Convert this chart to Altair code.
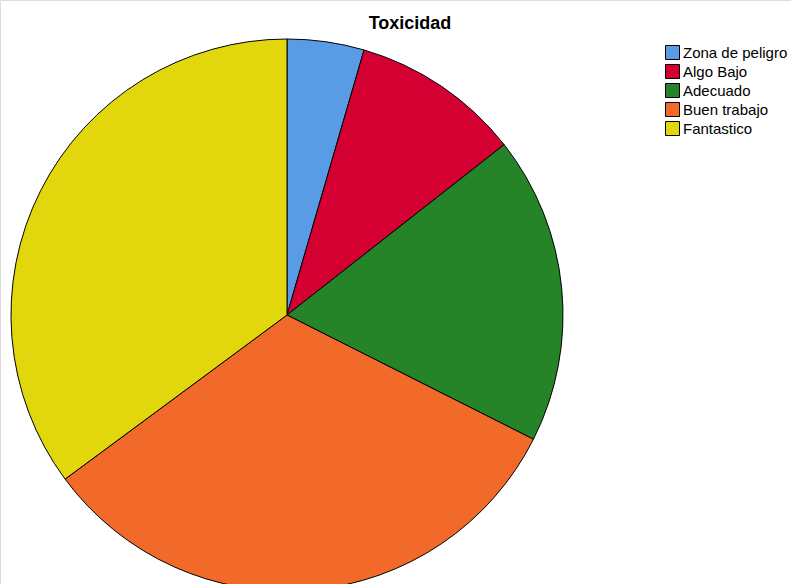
import altair as alt
import pandas as pd

categories = ["Zona de peligro", "Algo Bajo", "Adecuado", "Buen trabajo", "Fantastico"]
counts = [5, 11, 20, 36, 39]
colors = ["#5A9BE6", "#D50032", "#258427", "#F26A2A", "#E2D70C"]
title_text = "Toxicidad"

df = pd.DataFrame({"cat": categories, "n": counts, "idx": list(range(len(categories)))})

pie = alt.Chart(df).mark_arc(outerRadius=276, stroke="black", strokeWidth=1).encode(
    theta=alt.Theta("n:Q", stack=True),
    order=alt.Order("idx:Q"),
    color=alt.Color(
        "cat:N",
        scale=alt.Scale(domain=categories, range=colors),
        legend=alt.Legend(
            title=None,
            orient="none",
            legendX=665,
            legendY=45,
            symbolType="square",
            symbolSize=196,
            symbolStrokeColor="black",
            symbolStrokeWidth=1,
            symbolOpacity=1,
            labelFont="Liberation Sans",
            labelFontSize=15,
            labelColor="black",
            labelOffset=3,
            rowPadding=0,
        ),
    ),
    x=alt.value(287),
    y=alt.value(315),
)

title = alt.Chart(pd.DataFrame({"t": [title_text]})).mark_text(
    font="Liberation Sans", fontSize=18, fontWeight="bold", color="black"
).encode(text="t:N", x=alt.value(410), y=alt.value(24))

chart = alt.layer(pie, title).properties(
    width=791, height=584, padding=0, autosize=alt.AutoSizeParams(type="none")
).configure_view(stroke=None).configure(background="white")

chart.save("out.html", embed_options={"renderer": "svg", "actions": False})
